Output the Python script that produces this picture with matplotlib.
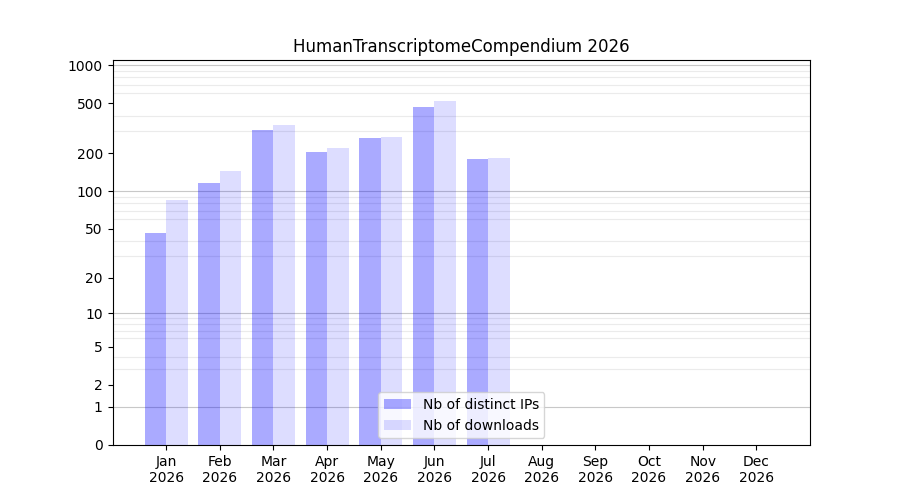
import numpy as np
import matplotlib
matplotlib.use('Agg')
import matplotlib.pyplot as plt

title = 'HumanTranscriptomeCompendium 2026'
months = ['Jan', 'Feb', 'Mar', 'Apr', 'May', 'Jun', 'Jul', 'Aug', 'Sep', 'Oct', 'Nov', 'Dec']
year = '2026'
distinct_ips = [46, 116, 306, 205, 264, 467, 180]
downloads = [85, 144, 335, 220, 269, 519, 183]

def fwd(y):
    return np.log10(np.maximum(y, 0) + 1)

def inv(y):
    return 10 ** y - 1

fig, ax = plt.subplots(figsize=(9, 5), dpi=100)
ax.set_yscale('function', functions=(fwd, inv))

# grid: decades darker, the rest light
minor = [m * 10 ** k for k in range(4) for m in range(2, 10) if m * 10 ** k < 1100]
ax.set_yticks(minor, minor=True)
ax.yaxis.grid(True, which='minor', color='#ebebeb', linewidth=0.8, zorder=0)
ax.tick_params(axis='y', which='minor', length=0)
for d in [1, 10, 100, 1000]:
    ax.axhline(d, color='#c8c8c8', linewidth=0.8, zorder=0)

x = np.arange(len(distinct_ips))
ax.bar(x, distinct_ips, width=-0.4, align='edge', color='blue', alpha=1/3,
       label='Nb of distinct IPs', zorder=2)
ax.bar(x, downloads, width=0.4, align='edge', color='blue', alpha=34/255,
       label='Nb of downloads', zorder=2)

yt = [0, 1, 2, 5, 10, 20, 50, 100, 200, 500, 1000]
ax.set_yticks(yt)
ax.set_yticklabels([str(v) for v in yt])
ax.set_ylim(0, 1100)

ax.set_xticks(np.arange(len(months)))
ax.set_xticklabels([m + '\n' + year for m in months])
ax.set_xlim(-1, len(months))

ax.set_title(title)
ax.legend(loc='lower center')

fig.savefig('out.png')
